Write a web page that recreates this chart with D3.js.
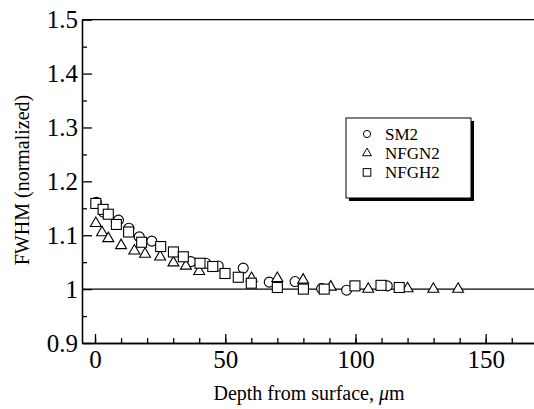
<!DOCTYPE html>
<html>
<head>
<meta charset="utf-8">
<script src="https://cdn.jsdelivr.net/npm/d3@7"></script>
<style>
  body { margin: 0; background: #fff; }
  svg text { fill: #000; }
</style>
</head>
<body>
<script>
// series (depth in um, normalized FWHM)
var sm2Depth   = [0.5, 3.2, 9, 13, 17, 21.8, 36.8, 42.5, 47.3, 56.9, 66.9, 76.8, 87, 96.6, 112.2];
var sm2Value   = [1.161, 1.143, 1.128, 1.113, 1.097, 1.089, 1.051, 1.048, 1.043, 1.039, 1.013, 1.014, 1.001, 0.998, 1.006];
var nfgn2Depth = [0.3, 2.7, 5.1, 10, 15.1, 19.2, 25, 30.1, 34.9, 40, 60.1, 70, 79.9, 90.5, 104.9, 120, 129.9, 139.4];
var nfgn2Value = [1.122, 1.105, 1.094, 1.081, 1.071, 1.065, 1.060, 1.049, 1.043, 1.033, 1.020, 1.020, 1.017, 1.004, 1.0, 1.001, 1.0, 1.0];
var nfgh2Depth = [0.3, 3.1, 5.1, 8.2, 12.9, 17.9, 25.2, 30.1, 33.9, 40.3, 45.2, 49.9, 55, 60, 70, 80, 88, 99.8, 109.8, 116.8];
var nfgh2Value = [1.159, 1.148, 1.139, 1.120, 1.106, 1.087, 1.079, 1.069, 1.060, 1.048, 1.042, 1.029, 1.022, 1.011, 1.003, 1.0, 1.0, 1.006, 1.007, 1.003];

var seriesNames = ['SM2', 'NFGN2', 'NFGH2'];
var xTicks = [0, 50, 100, 150];
var yTicks = [0.9, 1, 1.1, 1.2, 1.3, 1.4, 1.5];

// Times-like face wanted; falls through the list to whatever is installed
var serif = "'Liberation Serif', 'Times New Roman', Times, Tinos, 'Nimbus Roman', FreeSerif, 'Noto Serif', 'DejaVu Serif', serif";
var width = 534, height = 409;

var svg = d3.select('body').append('svg')
    .attr('width', width)
    .attr('height', height)
    .attr('font-family', serif);

// scales (plot runs off the right edge of the picture)
var x = d3.scaleLinear().domain([-5, 170]).range([82, 537.8]);
var y = d3.scaleLinear().domain([0.9, 1.5]).range([343, 19.7]);

// reference line at 1
svg.append('line')
    .attr('x1', x(-5)).attr('x2', x(170))
    .attr('y1', y(1)).attr('y2', y(1))
    .attr('stroke', '#000').attr('stroke-width', 1.1);

// minor ticks first
var xAxisMinor = d3.axisBottom(x).tickValues(d3.range(0, 171, 10)).tickSize(-5).tickSizeOuter(0).tickFormat('');
var yAxisMinor = d3.axisLeft(y).tickValues(d3.range(0.95, 1.5, 0.1)).tickSize(-5).tickSizeOuter(0).tickFormat('');

svg.append('g').attr('transform', 'translate(0,' + y(0.9) + ')').call(xAxisMinor);
svg.append('g').attr('transform', 'translate(' + x(-5) + ',0)').call(yAxisMinor);

// major ticks with labels
var xAxis = d3.axisBottom(x).tickValues(xTicks).tickSize(-9).tickSizeOuter(0).tickPadding(7);
var yAxis = d3.axisLeft(y).tickValues(yTicks).tickSize(-10).tickSizeOuter(0).tickPadding(4)
    .tickFormat(function(d) { return d === 1 ? '1' : d3.format('.1f')(d); });

svg.append('g').attr('class', 'xaxis')
    .attr('transform', 'translate(0,' + y(0.9) + ')').call(xAxis);
svg.append('g').attr('class', 'yaxis')
    .attr('transform', 'translate(' + x(-5) + ',0)').call(yAxis);

// d3 puts font-family="sans-serif" on axis groups, override it
svg.selectAll('.xaxis, .yaxis').attr('font-family', serif).attr('font-size', 25);
svg.selectAll('.xaxis text, .yaxis text').attr('fill', '#000');

svg.selectAll('.domain, .tick line').attr('stroke', '#000').attr('stroke-width', 1.3);

// top frame line
svg.append('line')
    .attr('x1', x(-5)).attr('x2', x(170))
    .attr('y1', y(1.5)).attr('y2', y(1.5))
    .attr('stroke', '#000').attr('stroke-width', 1.3);

// markers
function pts(dx, vy) {
    return dx.map(function(d, i) { return {d: d, v: vy[i]}; });
}

svg.append('g').selectAll('circle')
    .data(pts(sm2Depth, sm2Value))
    .enter().append('circle')
    .attr('cx', function(p) { return x(p.d); })
    .attr('cy', function(p) { return y(p.v); })
    .attr('r', 5)
    .attr('fill', '#fff').attr('stroke', '#000').attr('stroke-width', 1.1);

var tri = d3.symbol().type(d3.symbolTriangle).size(52);
svg.append('g').selectAll('path')
    .data(pts(nfgn2Depth, nfgn2Value))
    .enter().append('path')
    .attr('d', tri)
    .attr('transform', function(p) { return 'translate(' + x(p.d) + ',' + y(p.v) + ')'; })
    .attr('fill', '#fff').attr('stroke', '#000').attr('stroke-width', 1.1);

svg.append('g').selectAll('rect')
    .data(pts(nfgh2Depth, nfgh2Value))
    .enter().append('rect')
    .attr('x', function(p) { return x(p.d) - 5; })
    .attr('y', function(p) { return y(p.v) - 5; })
    .attr('width', 10).attr('height', 10)
    .attr('fill', '#fff').attr('stroke', '#000').attr('stroke-width', 1.1);

// legend with drop shadow
var lg = svg.append('g').attr('transform', 'translate(346,118)');
lg.append('rect').attr('x', 3).attr('y', 3).attr('width', 125).attr('height', 80).attr('fill', '#000');
lg.append('rect').attr('x', 0).attr('y', 0).attr('width', 125).attr('height', 80)
    .attr('fill', '#fff').attr('stroke', '#000').attr('stroke-width', 1);

seriesNames.forEach(function(name, i) {
    var cy = 16 + i * 19.2;
    if (i === 0) {
        lg.append('circle').attr('cx', 21).attr('cy', cy).attr('r', 3.6)
            .attr('fill', 'none').attr('stroke', '#000').attr('stroke-width', 1);
    } else if (i === 1) {
        lg.append('path').attr('d', d3.symbol().type(d3.symbolTriangle).size(34))
            .attr('transform', 'translate(21,' + cy + ')')
            .attr('fill', 'none').attr('stroke', '#000').attr('stroke-width', 1);
    } else {
        lg.append('rect').attr('x', 21 - 3.8).attr('y', cy - 3.8).attr('width', 7.6).attr('height', 7.6)
            .attr('fill', 'none').attr('stroke', '#000').attr('stroke-width', 1);
    }
    lg.append('text').attr('x', 39).attr('y', cy + 6)
        .attr('font-size', 17).text(name);
});

// axis titles
var xt = svg.append('text')
    .attr('x', 309).attr('y', 400)
    .attr('text-anchor', 'middle')
    .attr('font-size', 20);
xt.append('tspan').text('Depth from surface, ');
xt.append('tspan').attr('font-style', 'italic').text('\u03bc');
xt.append('tspan').text('m');

svg.append('text')
    .attr('transform', 'translate(29,180) rotate(-90)')
    .attr('text-anchor', 'middle')
    .attr('font-size', 20)
    .text('FWHM (normalized)');
</script>
</body>
</html>
